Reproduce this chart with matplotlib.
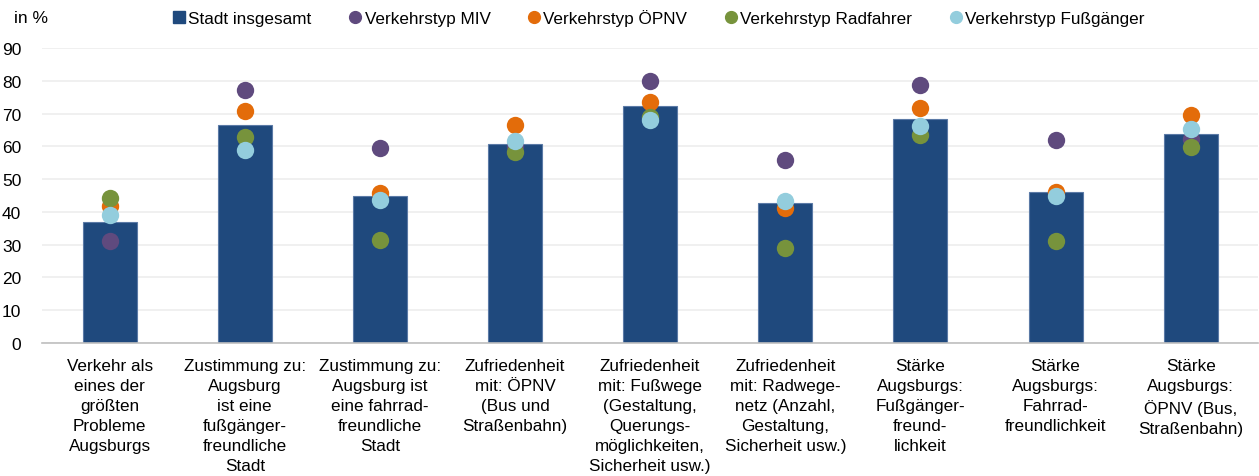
import numpy as np
import matplotlib
matplotlib.use("Agg")
import matplotlib.pyplot as plt
from matplotlib.lines import Line2D

plt.rcParams['font.family'] = ['Liberation Sans', 'DejaVu Sans']

categories = [
    "Verkehr als\neines der\ngrößten\nProbleme\nAugsburgs",
    "Zustimmung zu:\nAugsburg\nist eine\nfußgänger-\nfreundliche\nStadt",
    "Zustimmung zu:\nAugsburg ist\neine fahrrad-\nfreundliche\nStadt",
    "Zufriedenheit\nmit: ÖPNV\n(Bus und\nStraßenbahn)",
    "Zufriedenheit\nmit: Fußwege\n(Gestaltung,\nQuerungs-\nmöglichkeiten,\nSicherheit usw.)",
    "Zufriedenheit\nmit: Radwege-\nnetz (Anzahl,\nGestaltung,\nSicherheit usw.)",
    "Stärke\nAugsburgs:\nFußgänger-\nfreund-\nlichkeit",
    "Stärke\nAugsburgs:\nFahrrad-\nfreundlichkeit",
    "Stärke\nAugsburgs:\nÖPNV (Bus,\nStraßenbahn)",
]

stadt = [37.0, 66.6, 45.0, 60.7, 72.2, 42.6, 68.3, 46.1, 63.8]
miv = [31.1, 77.1, 59.5, 60.0, 79.9, 55.8, 78.7, 61.9, 62.2]
oepnv = [41.9, 70.8, 45.9, 66.5, 73.6, 41.1, 71.8, 46.1, 69.7]
rad = [44.2, 63.0, 31.5, 58.2, 69.0, 29.0, 63.4, 31.2, 59.7]
fuss = [39.2, 59.0, 43.6, 61.6, 68.1, 43.2, 66.3, 44.9, 65.2]

series = [
    ("Verkehrstyp MIV", miv, "#5F4A7E"),
    ("Verkehrstyp ÖPNV", oepnv, "#E36C0A"),
    ("Verkehrstyp Radfahrer", rad, "#77933C"),
    ("Verkehrstyp Fußgänger", fuss, "#93CDDD"),
]
bar_color = "#1F497D"

fig = plt.figure(figsize=(12.59, 4.77), dpi=100)
ax = fig.add_axes([0.0334, 0.279, 0.966, 0.618])

x = np.arange(len(categories))
ax.bar(x, stadt, width=0.4, color=bar_color, edgecolor="#5B7AA6", linewidth=0.8, zorder=2)
for i, (name, vals, col) in enumerate(series):
    ax.plot(x, vals, linestyle="none", marker="o", markersize=12.5,
            color=col, markeredgewidth=0, zorder=3 + i)

ax.set_xlim(-0.5, len(categories) - 0.5)
ax.set_ylim(0, 90)
ax.set_yticks(range(0, 91, 10))
ax.grid(axis="y", color="#EDEDED", linewidth=1.2, zorder=0)
ax.set_axisbelow(True)
for s in ["top", "right", "left"]:
    ax.spines[s].set_visible(False)
ax.spines["bottom"].set_color("#BFBFBF")
ax.spines["bottom"].set_linewidth(1.2)
ax.tick_params(axis="both", length=0, colors="#000000")
ax.tick_params(axis="y", pad=15, labelsize=12.5)
ax.tick_params(axis="x", pad=11)
ax.set_xticks(x)
ax.set_xticklabels(categories, fontsize=12.3, linespacing=1.41, ha="center", va="top")

fig.text(0.011, 0.962, "in %", fontsize=12.5, va="center", ha="left")

handles = [Line2D([], [], linestyle="none", marker="s", markersize=8, color=bar_color,
                  label="Stadt insgesamt")]
for name, vals, col in series:
    handles.append(Line2D([], [], linestyle="none", marker="o", markersize=8.5,
                          color=col, label=name))
fig.legend(handles=handles, loc="center", bbox_to_anchor=(0.522, 0.962), ncol=5,
           frameon=False, fontsize=12.3, handletextpad=0.0, columnspacing=2.0,
           handlelength=1.1)

fig.savefig("out.png", dpi=100)
